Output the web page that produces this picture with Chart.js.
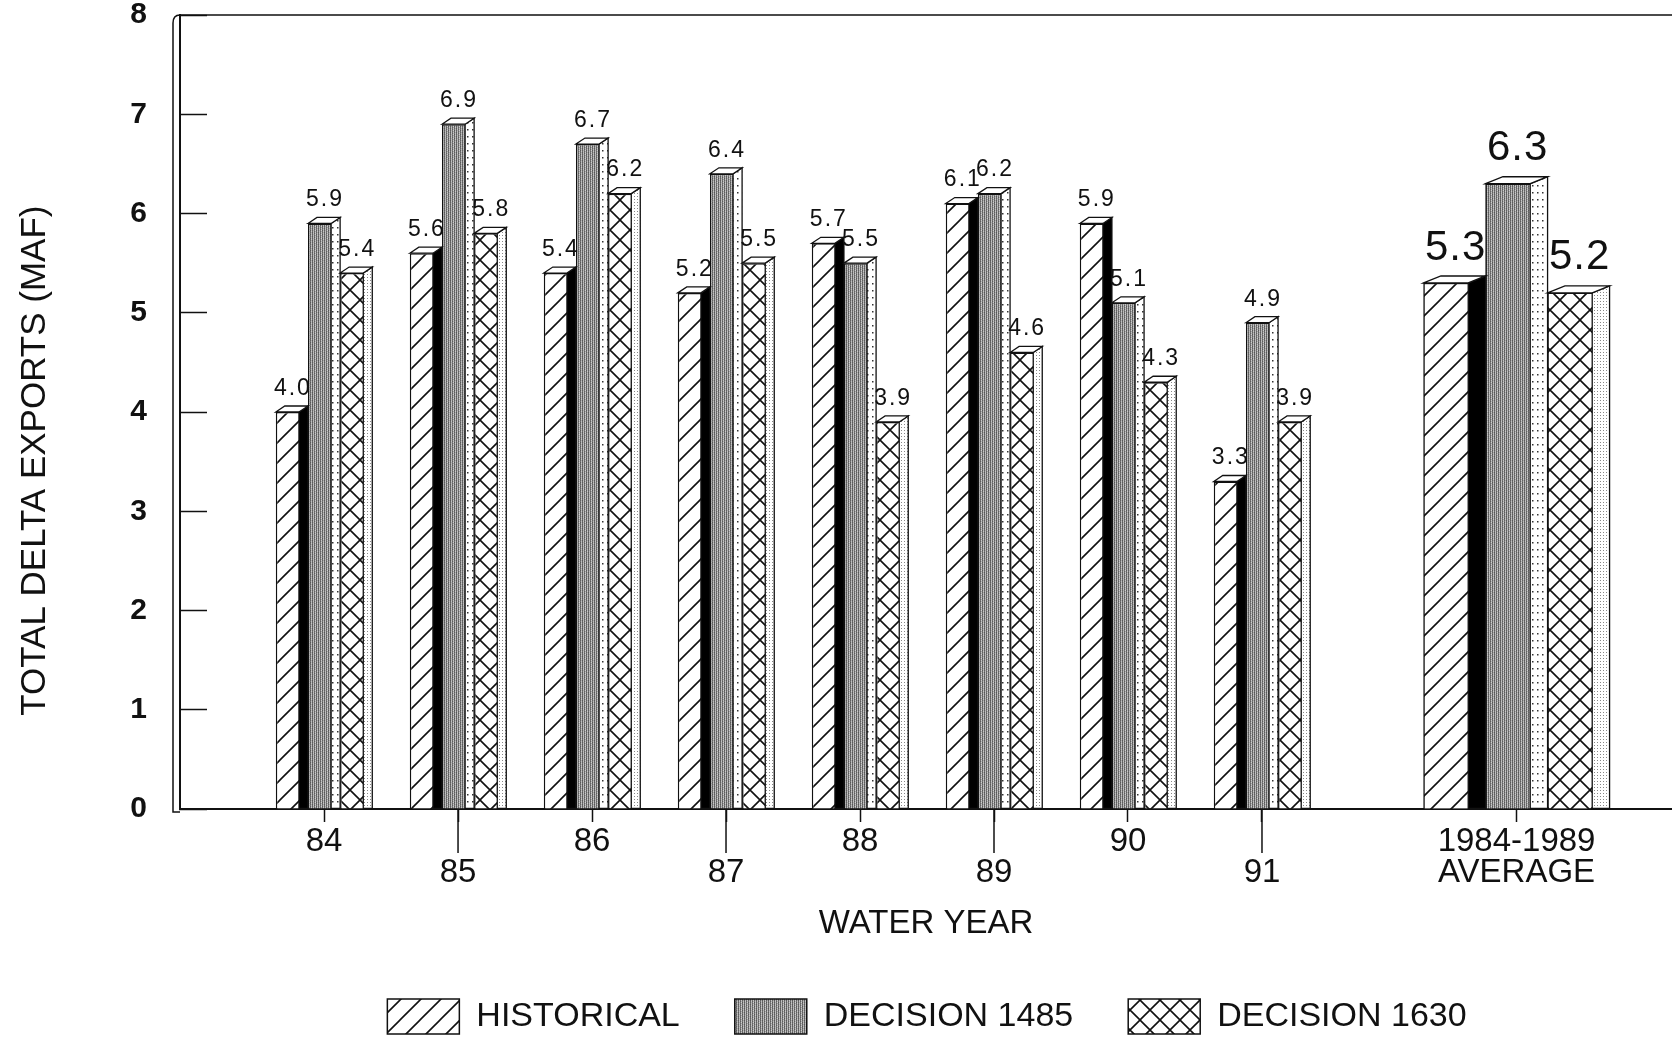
<!DOCTYPE html>
<html>
<head>
<meta charset="utf-8">
<script src="https://cdn.jsdelivr.net/npm/chart.js@4.4.1/dist/chart.umd.min.js"></script>
<style>
  html, body { margin: 0; padding: 0; background: #fff; }
  #wrap { width: 1672px; height: 1038px; position: relative; }
</style>
</head>
<body>
<div id="wrap"><canvas id="chart1"></canvas></div>
<script>
//----------------- chart data -------------------------
const years = [84, 85, 86, 87, 88, 89, 90, 91];
const avgPos = 92.9;                       // x slot of the average group
const avgLabel = ["1984-1989", "AVERAGE"];
const seriesNames = ["HISTORICAL", "DECISION 1485", "DECISION 1630"];
const historical   = [4.0, 5.6, 5.4, 5.2, 5.7, 6.1, 5.9, 3.3];
const decision1485 = [5.9, 6.9, 6.7, 6.4, 5.5, 6.2, 5.1, 4.9];
const decision1630 = [5.4, 5.8, 6.2, 5.5, 3.9, 4.6, 4.3, 3.9];
const averages = [5.3, 6.3, 5.2];          // 1984-1989 average, same series order

const FONT = "'Liberation Sans', Arial, sans-serif";
const INK = "#111";

// odd years drop to a second row, like the original
const tickLabels = years.map((y, i) => i % 2 ? ["", String(y)] : String(y)).concat([avgLabel]);
const tickPositions = years.concat([avgPos]);

const canvas = document.getElementById("chart1");
const ctx = canvas.getContext("2d");

//----------------- fill patterns -------------------------
function makeTile(w, h, draw) {
    const t = document.createElement("canvas");
    t.width = w; t.height = h;
    const g = t.getContext("2d");
    g.fillStyle = "#fff";
    g.fillRect(0, 0, w, h);
    draw(g, w, h);
    return ctx.createPattern(t, "repeat");
}

const hatch = makeTile(20, 20, (g, s) => {
    g.strokeStyle = INK; g.lineWidth = 1.6;
    g.beginPath();
    g.moveTo(-2, s + 2); g.lineTo(s + 2, -2);
    g.moveTo(-2, 2); g.lineTo(2, -2);
    g.moveTo(s - 2, s + 2); g.lineTo(s + 2, s - 2);
    g.stroke();
});

const cross = makeTile(20, 20, (g, s) => {
    g.strokeStyle = INK; g.lineWidth = 1.6;
    g.beginPath();
    g.moveTo(-2, s + 2); g.lineTo(s + 2, -2);
    g.moveTo(-2, -2); g.lineTo(s + 2, s + 2);
    g.stroke();
});

// grey screen with vertical streaks
const greyLevels = [
    [0x58, 0xb8, 0x70, 0xc8, 0x60, 0xa8],
    [0x66, 0xc4, 0x5c, 0xb0, 0x74, 0xc0],
    [0x5e, 0xac, 0x78, 0xd0, 0x56, 0xb4],
    [0x6c, 0xc0, 0x62, 0xa4, 0x6a, 0xc8]
];
const grey = makeTile(6, 4, (g) => {
    const img = g.createImageData(6, 4);
    for (let r = 0; r < 4; r++) {
        for (let c = 0; c < 6; c++) {
            const k = (r * 6 + c) * 4;
            img.data[k] = img.data[k + 1] = img.data[k + 2] = greyLevels[r][c];
            img.data[k + 3] = 255;
        }
    }
    g.putImageData(img, 0, 0);
});

const dotsSparse = makeTile(5, 7, (g) => { g.fillStyle = "#333"; g.fillRect(2, 3, 1.5, 1.5); });
const dotsDense = makeTile(3, 3, (g) => { g.fillStyle = "#888"; g.fillRect(1, 1, 1, 1); });

//----------------- datasets -------------------------
const fills = [hatch, grey, cross];
const sides = ["#000", dotsSparse, dotsDense];
const stacks = ["h", "d1", "d2"];
const yearSeries = [historical, decision1485, decision1630];

const datasets = [];
yearSeries.forEach((arr, k) => {
    datasets.push({
        label: seriesNames[k],
        data: arr.map((v, i) => ({ x: years[i], y: v })),
        backgroundColor: fills[k],
        sideFill: sides[k],
        stack: stacks[k]
    });
});
averages.forEach((v, k) => {
    datasets.push({
        label: seriesNames[k] + " avg",
        data: [{ x: avgPos, y: v }],
        backgroundColor: fills[k],
        sideFill: sides[k],
        stack: stacks[k],
        barThickness: 62,
        big: true
    });
});
datasets.forEach(ds => {
    ds.borderColor = INK;
    ds.borderWidth = 1.5;
    ds.categoryPercentage = 0.72;
    ds.barPercentage = 1;
});

//----------------- pseudo 3D + value labels -------------------------
const bar3d = {
    id: "bar3d",
    afterDatasetsDraw(chart) {
        const c = chart.ctx;
        const all = [];
        chart.data.datasets.forEach((ds, i) => {
            chart.getDatasetMeta(i).data.forEach((bar, j) => all.push({ ds, bar, v: ds.data[j].y }));
        });
        c.save();
        c.lineWidth = 1.3;
        c.strokeStyle = INK;
        all.forEach(({ ds, bar }) => {
            const L = bar.x - bar.width / 2, R = bar.x + bar.width / 2;
            const d = bar.width * 0.28;
            const rise = ds.big ? 7 : 6;
            const top = bar.y, base = bar.base;
            // side face
            c.beginPath();
            c.moveTo(R - d, top); c.lineTo(R, top - rise); c.lineTo(R, base); c.lineTo(R - d, base); c.closePath();
            c.fillStyle = ds.sideFill; c.fill(); c.stroke();
            // top face
            c.beginPath();
            c.moveTo(L, top); c.lineTo(L + d, top - rise); c.lineTo(R, top - rise); c.lineTo(R - d, top); c.closePath();
            c.fillStyle = "#fff"; c.fill(); c.stroke();
        });
        c.fillStyle = INK;
        c.textAlign = "center";
        c.textBaseline = "bottom";
        all.forEach(({ ds, bar, v }) => {
            c.font = ds.big ? "42px " + FONT : "23px " + FONT;
            c.letterSpacing = ds.big ? "1px" : "2px";
            c.fillText(v.toFixed(1), bar.x + 1, bar.y - (ds.big ? 14 : 12));
        });
        c.restore();
    }
};

//----------------- frame lines, long ticks, legend offset -------------------------
const frame = {
    id: "frame",
    afterLayout(chart) {
        // the original legend sits right of centre
        chart.legend.left += 182;
    },
    afterDraw(chart) {
        const c = chart.ctx;
        const a = chart.chartArea;
        const xs = chart.scales.x;
        c.save();
        c.strokeStyle = INK;
        c.lineWidth = 1.5;
        c.beginPath();
        c.moveTo(a.left - 7, a.top + 8);
        c.quadraticCurveTo(a.left - 7, a.top, a.left, a.top);
        c.lineTo(a.right, a.top);
        c.moveTo(a.left - 7, a.top + 8);
        c.lineTo(a.left - 7, a.bottom + 3);
        c.lineTo(a.left, a.bottom + 3);
        c.stroke();
        // odd years get a long tick down to the second label row
        years.forEach((y, i) => {
            if (i % 2) {
                const px = xs.getPixelForValue(y);
                c.beginPath();
                c.moveTo(px, a.bottom);
                c.lineTo(px, a.bottom + 44);
                c.stroke();
            }
        });
        c.restore();
    }
};

Chart.defaults.color = INK;
Chart.defaults.font.family = FONT;

new Chart(ctx, {
    type: "bar",
    data: { datasets: datasets },
    options: {
        responsive: true,
        maintainAspectRatio: false,
        animation: false,
        layout: { padding: { top: 15, right: 0, bottom: -6, left: 0 } },
        plugins: {
            tooltip: { enabled: false },
            legend: {
                position: "bottom",
                labels: {
                    filter: item => item.datasetIndex < 3,
                    boxWidth: 72,
                    boxHeight: 35,
                    padding: 55,
                    color: INK,
                    font: { size: 34 }
                }
            }
        },
        scales: {
            x: {
                type: "linear",
                min: 82.925,
                max: 94.06,
                offset: false,
                afterBuildTicks: s => { s.ticks = tickPositions.map(v => ({ value: v })); },
                afterFit: s => { s.height = 135; },
                grid: { offset: false, drawOnChartArea: false, tickLength: 13, tickWidth: 1.5, tickColor: INK },
                border: { display: true, width: 2, color: INK },
                ticks: {
                    autoSkip: false,
                    maxRotation: 0,
                    padding: 5,
                    color: INK,
                    font: { size: 33, lineHeight: 0.92 },
                    callback: (v, i) => tickLabels[i]
                },
                title: { display: true, text: "WATER YEAR", color: INK, font: { size: 33 }, padding: { top: 6, bottom: 0 } }
            },
            y: {
                min: 0,
                max: 8,
                stacked: false,
                afterFit: s => { s.width = 180; s.paddingTop = 0; s.paddingBottom = 0; },
                grid: { drawOnChartArea: false, tickLength: -27, tickWidth: 1.5, tickColor: INK },
                border: { display: true, width: 2, color: INK },
                ticks: { stepSize: 1, padding: 60, color: INK, font: { size: 30, weight: "bold" } },
                title: {
                    display: true,
                    text: "TOTAL DELTA EXPORTS (MAF)" + "\u00a0".repeat(10),
                    color: INK,
                    font: { size: 35 },
                    padding: { top: 14, bottom: 0 }
                }
            }
        }
    },
    plugins: [bar3d, frame]
});
</script>
</body>
</html>
